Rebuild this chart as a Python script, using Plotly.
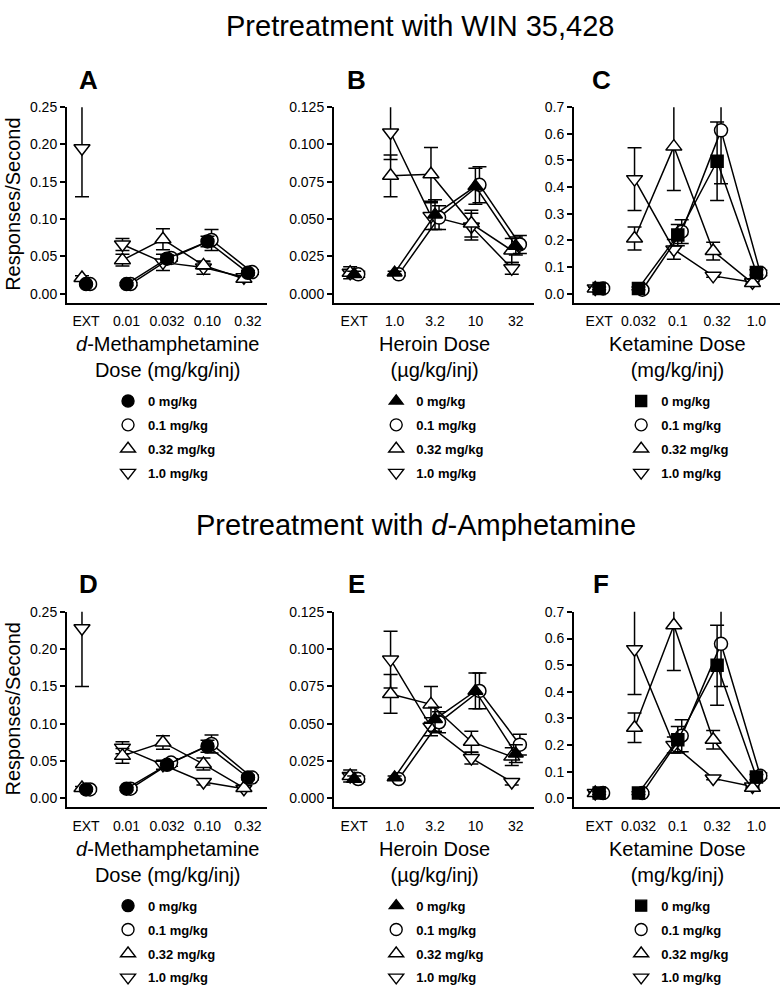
import plotly.graph_objects as go

W, H = 782, 993

# ---------------- data ----------------
cats_meth = ["EXT", "0.01", "0.032", "0.10", "0.32"]
cats_her = ["EXT", "1.0", "3.2", "10", "32"]
cats_ket = ["EXT", "0.032", "0.1", "0.32", "1.0"]
pre_labels = ["0 mg/kg", "0.1 mg/kg", "0.32 mg/kg", "1.0 mg/kg"]

# Panel A: WIN 35,428 pretreatment, d-methamphetamine
A_0 = [0.013, 0.013, 0.047, 0.070, 0.028]
A_0_err = [0.002, 0.002, 0.005, 0.007, 0.003]
A_01 = [0.013, 0.013, 0.048, 0.072, 0.029]
A_01_err = [0.002, 0.002, 0.004, 0.014, 0.003]
A_032 = [0.021, 0.045, 0.073, 0.038, 0.020]
A_032_err = [0.003, 0.008, 0.014, 0.005, 0.004]
A_10 = [0.195, 0.066, 0.042, 0.035, 0.022]
A_10_err = [0.065, 0.008, 0.011, 0.009, 0.003]

# Panel B: WIN 35,428 pretreatment, heroin
B_0 = [0.013, 0.014, 0.053, 0.072, 0.032]
B_0_err = [0.002, 0.001, 0.010, 0.012, 0.006]
B_01 = [0.013, 0.013, 0.051, 0.073, 0.033]
B_01_err = [0.002, 0.001, 0.008, 0.012, 0.006]
B_032 = [0.014, 0.079, 0.080, 0.047, 0.029]
B_032_err = [0.002, 0.014, 0.018, 0.009, 0.008]
B_10 = [0.014, 0.108, 0.052, 0.045, 0.017]
B_10_err = [0.004, 0.018, 0.009, 0.009, 0.004]

# Panel C: WIN 35,428 pretreatment, ketamine
C_0 = [0.020, 0.020, 0.220, 0.497, 0.080]
C_0_err = [0.005, 0.005, 0.040, 0.147, 0.010]
C_01 = [0.020, 0.015, 0.233, 0.613, 0.078]
C_01_err = [0.005, 0.005, 0.045, 0.200, 0.010]
C_032 = [0.020, 0.207, 0.552, 0.160, 0.040]
C_032_err = [0.005, 0.043, 0.165, 0.033, 0.005]
C_10 = [0.020, 0.430, 0.166, 0.067, 0.043]
C_10_err = [0.005, 0.118, 0.037, 0.005, 0.005]

# Panel D: d-amphetamine pretreatment, d-methamphetamine
D_0 = [0.012, 0.013, 0.045, 0.070, 0.028]
D_0_err = [0.002, 0.002, 0.004, 0.008, 0.003]
D_01 = [0.012, 0.013, 0.048, 0.073, 0.028]
D_01_err = [0.002, 0.002, 0.005, 0.012, 0.003]
D_032 = [0.014, 0.057, 0.075, 0.046, 0.014]
D_032_err = [0.002, 0.010, 0.009, 0.008, 0.003]
D_10 = [0.228, 0.068, 0.045, 0.022, 0.013]
D_10_err = [0.078, 0.008, 0.006, 0.004, 0.003]

# Panel E: d-amphetamine pretreatment, heroin
E_0 = [0.013, 0.014, 0.053, 0.072, 0.030]
E_0_err = [0.002, 0.001, 0.008, 0.012, 0.006]
E_01 = [0.013, 0.013, 0.051, 0.072, 0.036]
E_01_err = [0.002, 0.001, 0.007, 0.012, 0.007]
E_032 = [0.015, 0.070, 0.063, 0.038, 0.028]
E_032_err = [0.002, 0.013, 0.012, 0.007, 0.006]
E_10 = [0.015, 0.093, 0.048, 0.027, 0.011]
E_10_err = [0.004, 0.019, 0.006, 0.004, 0.002]

# Panel F: d-amphetamine pretreatment, ketamine
F_0 = [0.020, 0.020, 0.220, 0.500, 0.080]
F_0_err = [0.005, 0.005, 0.050, 0.150, 0.010]
F_01 = [0.020, 0.020, 0.235, 0.580, 0.085]
F_01_err = [0.005, 0.005, 0.060, 0.160, 0.010]
F_032 = [0.020, 0.265, 0.650, 0.220, 0.040]
F_032_err = [0.005, 0.055, 0.170, 0.035, 0.005]
F_10 = [0.020, 0.560, 0.200, 0.075, 0.045]
F_10_err = [0.005, 0.170, 0.030, 0.005, 0.005]

# ---------------- layout helpers ----------------
FONT = "Liberation Sans, Arial, Helvetica, sans-serif"

def px_x(p):
    return p / W

def px_y(p):
    return 1 - p / H

# (axis left px, axis right px, x-range)
panel_x = [(67, 267, [-0.47, 4.47]), (334, 534, [-0.5, 4.45]), (574, 780, [-0.64, 4.6])]
row_top = [101, 615]
PLOT_H = 199
ZERO_OFF = 190  # px from top tick to zero

panels = [
    dict(letter="A", cats=cats_meth, ymax=0.25, step=0.05, dec=2, fill="circle",
         data=[(A_0, A_0_err), (A_01, A_01_err), (A_032, A_032_err), (A_10, A_10_err)],
         xtitle="<i>d</i>-Methamphetamine<br>Dose (mg/kg/inj)"),
    dict(letter="B", cats=cats_her, ymax=0.125, step=0.025, dec=3, fill="triangle-up",
         data=[(B_0, B_0_err), (B_01, B_01_err), (B_032, B_032_err), (B_10, B_10_err)],
         xtitle="Heroin Dose<br>(µg/kg/inj)"),
    dict(letter="C", cats=cats_ket, ymax=0.7, step=0.1, dec=1, fill="square",
         data=[(C_0, C_0_err), (C_01, C_01_err), (C_032, C_032_err), (C_10, C_10_err)],
         xtitle="Ketamine Dose<br>(mg/kg/inj)"),
    dict(letter="D", cats=cats_meth, ymax=0.25, step=0.05, dec=2, fill="circle",
         data=[(D_0, D_0_err), (D_01, D_01_err), (D_032, D_032_err), (D_10, D_10_err)],
         xtitle="<i>d</i>-Methamphetamine<br>Dose (mg/kg/inj)"),
    dict(letter="E", cats=cats_her, ymax=0.125, step=0.025, dec=3, fill="triangle-up",
         data=[(E_0, E_0_err), (E_01, E_01_err), (E_032, E_032_err), (E_10, E_10_err)],
         xtitle="Heroin Dose<br>(µg/kg/inj)"),
    dict(letter="F", cats=cats_ket, ymax=0.7, step=0.1, dec=1, fill="square",
         data=[(F_0, F_0_err), (F_01, F_01_err), (F_032, F_032_err), (F_10, F_10_err)],
         xtitle="Ketamine Dose<br>(mg/kg/inj)"),
]

dodge = [0.0, 0.1, -0.1, -0.1]  # per-series horizontal stagger

fig = go.Figure()
annotations = []
layout_axes = {}

for i, p in enumerate(panels):
    r, c = divmod(i, 3)
    n = i + 1
    xa = "x" if n == 1 else f"x{n}"
    ya = "y" if n == 1 else f"y{n}"
    xkey = "xaxis" if n == 1 else f"xaxis{n}"
    ykey = "yaxis" if n == 1 else f"yaxis{n}"
    lg = "legend" if n == 1 else f"legend{n}"
    x0, x1, xr = panel_x[c]
    top = row_top[r]
    bot = top + PLOT_H
    ymax = p["ymax"]
    ymin = -ymax * (PLOT_H - ZERO_OFF) / ZERO_OFF

    symbols = [
        dict(symbol=p["fill"], color="black", size=13 if p["fill"] != "square" else 12),
        dict(symbol="circle", color="white", size=13),
        dict(symbol="triangle-up", color="white", size=14),
        dict(symbol="triangle-down", color="white", size=14),
    ]

    # draw order: 1.0, 0.32, 0.1, 0 (filled on top)
    for k in [3, 2, 1, 0]:
        vals, errs = p["data"][k]
        sm = symbols[k]
        xs = [j + dodge[k] for j in range(len(p["cats"]))]
        mk = dict(symbol=sm["symbol"], size=sm["size"], color=sm["color"],
                  line=dict(color="black", width=1.5))
        # EXT point (not connected)
        fig.add_trace(go.Scatter(
            x=xs[:1], y=vals[:1], mode="markers", marker=mk,
            error_y=dict(type="data", array=errs[:1], color="black", thickness=1.5, width=7),
            xaxis=xa, yaxis=ya, showlegend=False, hoverinfo="skip",
        ))
        # dose-effect curve
        fig.add_trace(go.Scatter(
            x=xs[1:], y=vals[1:], mode="lines+markers",
            line=dict(color="black", width=1.5), marker=mk,
            error_y=dict(type="data", array=errs[1:], color="black", thickness=1.5, width=7),
            xaxis=xa, yaxis=ya, showlegend=False, hoverinfo="skip",
        ))
    # legend proxies
    for k in range(4):
        sm = symbols[k]
        fig.add_trace(go.Scatter(
            x=[None], y=[None], mode="markers", name=pre_labels[k],
            marker=dict(symbol=sm["symbol"], size=sm["size"] - 1, color=sm["color"],
                        line=dict(color="black", width=1.4)),
            xaxis=xa, yaxis=ya, legend=lg, legendgroup=f"{lg}_{k}", showlegend=True,
        ))

    ticks = [round(t * p["step"], 6) for t in range(int(round(ymax / p["step"])) + 1)]
    layout_axes[xkey] = dict(
        domain=[px_x(x0), px_x(x1)], range=xr, anchor=ya,
        tickmode="array", tickvals=list(range(len(p["cats"]))), ticktext=p["cats"],
        showline=True, linecolor="black", linewidth=2, ticks="", showgrid=False,
        zeroline=False, tickfont=dict(family=FONT, size=14, color="black"),
        ticklabelstandoff=5, fixedrange=True,
    )
    layout_axes[ykey] = dict(
        domain=[px_y(bot), px_y(top)], range=[ymin, ymax], anchor=xa,
        tickmode="array", tickvals=ticks,
        ticktext=[f"{t:.{p['dec']}f}" for t in ticks],
        showline=True, linecolor="black", linewidth=2, ticks="outside", ticklen=5,
        tickwidth=2, tickcolor="black", showgrid=False, zeroline=False,
        tickfont=dict(family=FONT, size=14, color="black"), fixedrange=True,
    )
    # legend placement (under the panel)
    ext_px = x0 + (0 - xr[0]) / (xr[1] - xr[0]) * (x1 - x0)
    leg_sym_x = ext_px + 42
    leg_top = bot + 85
    layout_axes[lg] = dict(
        x=px_x(leg_sym_x - 20), y=px_y(leg_top), xanchor="left", yanchor="top",
        font=dict(family=FONT, size=13, color="black", weight="bold"),
        bgcolor="rgba(0,0,0,0)", tracegroupgap=4, traceorder="grouped",
    )
    # panel letter
    annotations.append(dict(
        text=f"<b>{p['letter']}</b>", x=px_x(ext_px + 2), y=px_y(top - 28),
        xref="paper", yref="paper", showarrow=False, xanchor="center", yanchor="middle",
        font=dict(family=FONT, size=26, color="black"),
    ))
    # x title
    annotations.append(dict(
        text=p["xtitle"], x=px_x((x0 + x1) / 2), y=px_y(bot + 29),
        xref="paper", yref="paper", showarrow=False, xanchor="center", yanchor="top",
        font=dict(family=FONT, size=20, color="black"),
    ))
    if c == 0:
        annotations.append(dict(
            text="Responses/Second", x=px_x(13), y=px_y((top + bot) / 2),
            xref="paper", yref="paper", showarrow=False, textangle=-90,
            xanchor="center", yanchor="middle",
            font=dict(family=FONT, size=20, color="black"),
        ))

annotations.append(dict(
    text="Pretreatment with WIN 35,428", x=px_x(420), y=px_y(18),
    xref="paper", yref="paper", showarrow=False, xanchor="center", yanchor="middle",
    font=dict(family=FONT, size=29, color="black"),
))
annotations.append(dict(
    text="Pretreatment with <i>d</i>-Amphetamine", x=px_x(416), y=px_y(527),
    xref="paper", yref="paper", showarrow=False, xanchor="center", yanchor="middle",
    font=dict(family=FONT, size=29, color="black"),
))

fig.update_layout(
    width=W, height=H, margin=dict(l=0, r=0, t=0, b=0),
    paper_bgcolor="white", plot_bgcolor="white",
    annotations=annotations, showlegend=True,
    **layout_axes,
)

fig.write_html(
    "out.html",
    config={"displayModeBar": False},
    post_script="document.body.style.margin='0px';document.body.style.overflow='hidden';",
)
